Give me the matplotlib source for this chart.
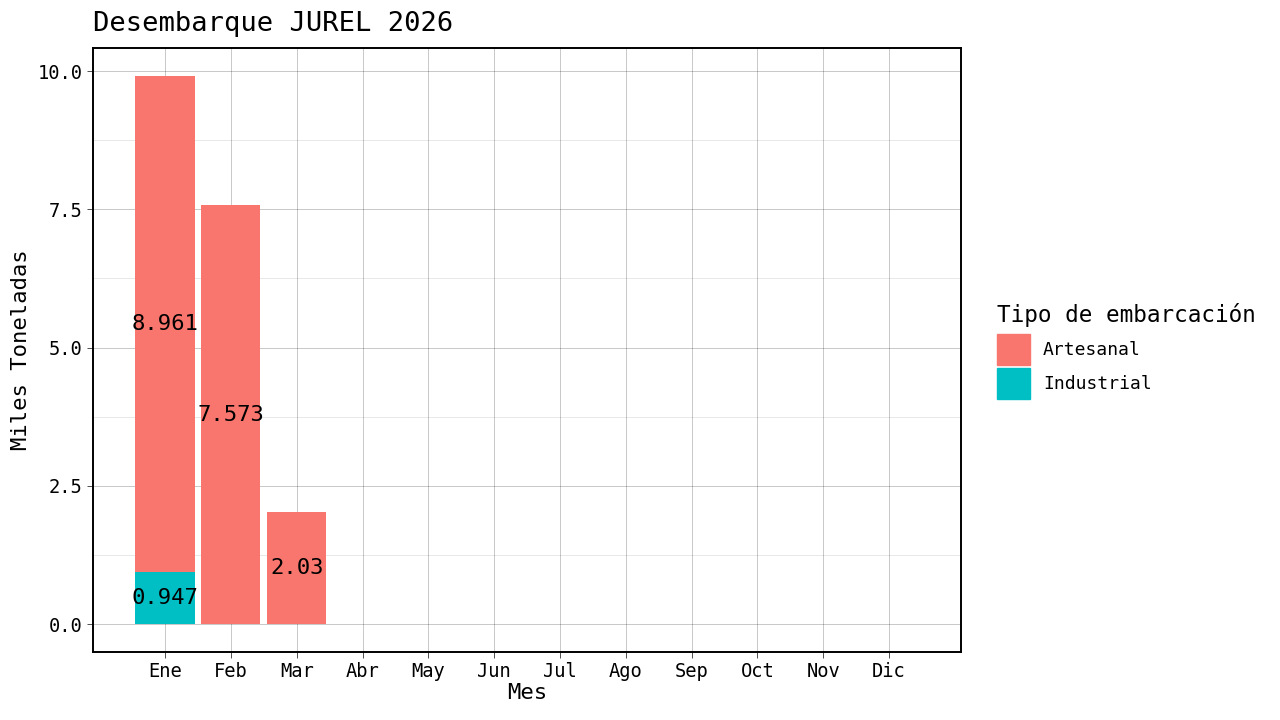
import numpy as np
import matplotlib
matplotlib.use("Agg")
import matplotlib.pyplot as plt
from matplotlib.ticker import MultipleLocator

plt.rcParams.update({
    "font.family": ["DejaVu Sans Mono", "DejaVu Sans"],
    "figure.dpi": 100,
})

meses = ["Ene", "Feb", "Mar", "Abr", "May", "Jun",
         "Jul", "Ago", "Sep", "Oct", "Nov", "Dic"]
industrial = [0.947, 0, 0, 0, 0, 0, 0, 0, 0, 0, 0, 0]
artesanal = [8.961, 7.573, 2.03, 0, 0, 0, 0, 0, 0, 0, 0, 0]
COLORS = {"Artesanal": "#F8766D", "Industrial": "#00BFC4"}

fig = plt.figure(figsize=(12.8, 7.2))
ax = fig.add_axes([0.0727, 0.0944, 0.6781, 0.8389])

x = np.arange(1, len(meses) + 1)
ind = np.array(industrial)
art = np.array(artesanal)
nz_i = ind > 0
nz_a = art > 0
ax.bar(x[nz_i], ind[nz_i], 0.9, color=COLORS["Industrial"], zorder=3)
ax.bar(x[nz_a], art[nz_a], 0.9, bottom=ind[nz_a], color=COLORS["Artesanal"], zorder=3)

# etiquetas centradas en cada segmento (como position_stack(vjust=0.5))
for xi, b, v in zip(x, ind, art):
    if v > 0:
        ax.text(xi, b + v / 2, f"{v:g}", ha="center", va="center", fontsize=16, zorder=4)
for xi, v in zip(x, ind):
    if v > 0:
        ax.text(xi, v / 2, f"{v:g}", ha="center", va="center", fontsize=16, zorder=4)

ax.set_xlim(1 - 1.094, 12 + 1.094)
ax.set_xticks(x)
ax.set_xticklabels(meses)
ax.yaxis.set_minor_locator(MultipleLocator(1.25))
ax.set_ylim(-0.506, 10.416)
ax.set_yticks([0, 2.5, 5, 7.5, 10])
ax.set_yticklabels(["0.0", "2.5", "5.0", "7.5", "10.0"])

ax.grid(which="major", color="black", linewidth=0.5, alpha=0.3, zorder=0)
ax.grid(which="minor", axis="y", color="black", linewidth=0.4, alpha=0.16, zorder=0)
ax.tick_params(which="major", length=4, width=0.6, labelsize=13.5, color="#333333")
ax.tick_params(which="minor", length=0)
for s in ax.spines.values():
    s.set_linewidth(1.4)
    s.set_color("black")

ax.set_xlabel("Mes", fontsize=16, labelpad=1)
ax.set_ylabel("Miles Toneladas", fontsize=16, labelpad=5)
ax.set_title("Desembarque JUREL 2026", loc="left", fontsize=19.5, pad=12)

handles = [plt.Rectangle((0, 0), 1, 1, color=COLORS[k]) for k in ["Artesanal", "Industrial"]]
leg = fig.legend(handles, ["Artesanal", "Industrial"], title="Tipo de embarcación",
                 loc="center left", bbox_to_anchor=(0.779, 0.5125), frameon=False,
                 fontsize=13, title_fontsize=16.3, handlelength=1.83, handleheight=2.25,
                 labelspacing=0.2, handletextpad=0.7, borderaxespad=0, borderpad=0)
leg._legend_box.align = "left"
leg._legend_box.sep = 5

fig.savefig("out.png", dpi=100)
